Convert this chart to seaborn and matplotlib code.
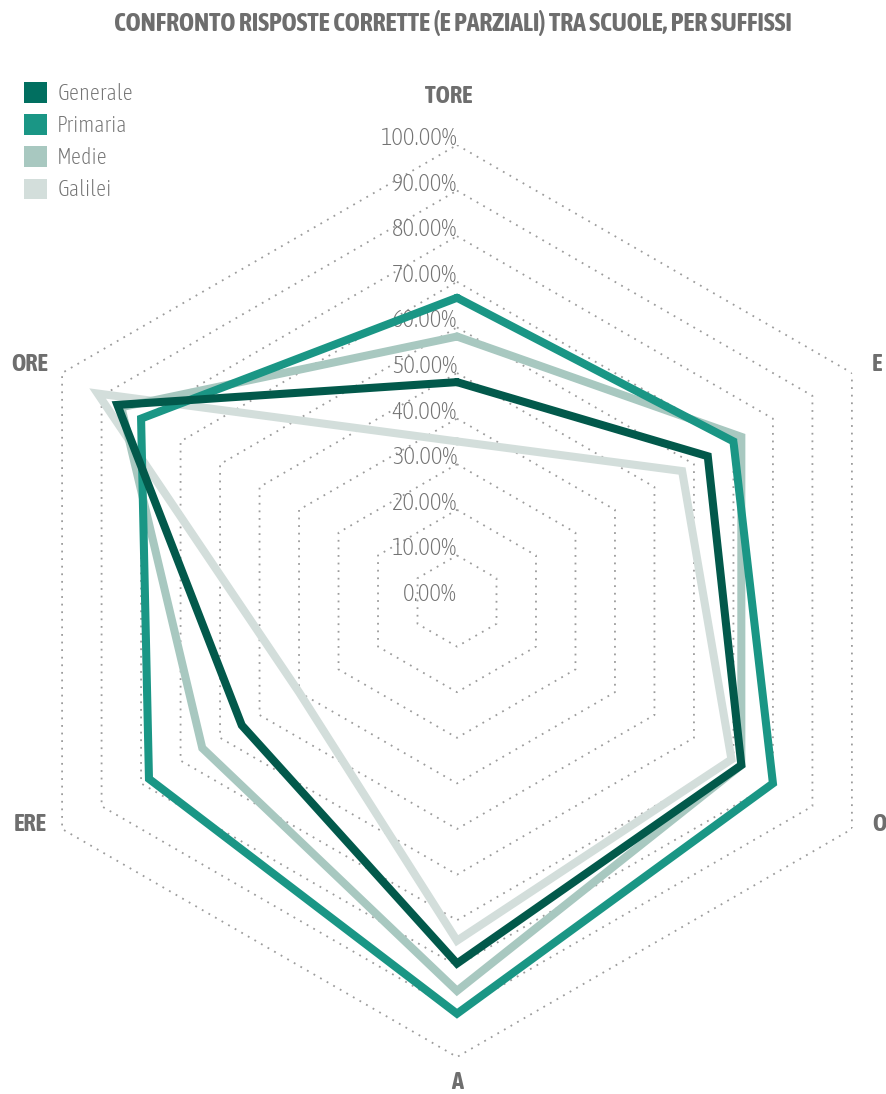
import numpy as np
import pandas as pd
import matplotlib
matplotlib.use("Agg")
import matplotlib.pyplot as plt
from matplotlib.patches import Patch
import seaborn as sns

# Suffix categories, clockwise from the top
categories = ["TORE", "E", "O", "A", "ERE", "ORE"]

# Share of correct (and partially correct) answers per school group
generale = [0.48, 0.635, 0.72, 0.795, 0.545, 0.86]
primaria = [0.665, 0.70, 0.80, 0.905, 0.78, 0.80]
medie = [0.58, 0.72, 0.72, 0.855, 0.645, 0.85]
galilei = [0.35, 0.57, 0.695, 0.745, 0.40, 0.91]

series_names = ["Generale", "Primaria", "Medie", "Galilei"]
levels = [0.0, 0.1, 0.2, 0.3, 0.4, 0.5, 0.6, 0.7, 0.8, 0.9, 1.0]

line_colors = {"Generale": "#02594b", "Primaria": "#1a9685",
               "Medie": "#a8c8c0", "Galilei": "#d3dedb"}
swatch_colors = {"Generale": "#016f60", "Primaria": "#1a9685",
                 "Medie": "#a8c8c0", "Galilei": "#d3dedb"}

sns.set_theme(style="white")
plt.rcParams["font.family"] = ["Asap Condensed", "DejaVu Sans"]

W, H = 887, 1094
fig = plt.figure(figsize=(W / 100, H / 100), dpi=100)

# Polar axes centred on the hexagon, unit radius = 100 %
cx, cy, R = 457, 601, 456
ax = fig.add_axes([(cx - R) / W, (H - cy - R) / H, 2 * R / W, 2 * R / H],
                  projection="polar")
ax.set_theta_offset(np.pi / 2)
ax.set_theta_direction(-1)
ax.set_ylim(0, 1)
ax.set_axis_off()

n = len(categories)
theta = np.linspace(0, 2 * np.pi, n + 1)

# Long-form table, each polygon closed by repeating its first vertex
values = {"Generale": generale, "Primaria": primaria,
          "Medie": medie, "Galilei": galilei}
rows = []
for name in series_names:
    v = list(values[name]) + [values[name][0]]
    for t, val in zip(theta, v):
        rows.append({"theta": t, "value": val, "school": name})
df = pd.DataFrame(rows)

# Hexagonal dotted grid
for lv in levels[1:]:
    ax.plot(theta, [lv] * (n + 1), color="#9c9c9c", linewidth=1.3,
            linestyle=(0, (1, 3.2)), zorder=1)

# Radial tick labels along the top axis
for lv in levels:
    ax.text(0, lv, f"{lv * 100:.2f}%", ha="right", va="baseline",
            fontsize=17.5, fontweight="light", color="#737373", zorder=2)

draw_order = ["Galilei", "Medie", "Primaria", "Generale"]
sns.lineplot(data=df, x="theta", y="value", hue="school",
             hue_order=draw_order, palette=line_colors, sort=False,
             estimator=None, linewidth=5.8, legend=False, ax=ax,
             solid_joinstyle="miter", zorder=3)

# Category labels around the chart
label_pos = {
    "TORE": (-0.9, 1.112, "center"),
    "E": (60.06, 1.050, "left"),
    "O": (118.0, 1.031, "left"),
    "A": (180.0, 1.050, "center"),
    "ERE": (241.7, 1.021, "right"),
    "ORE": (300.3, 1.039, "right"),
}
for cat in categories:
    ang, r, ha = label_pos[cat]
    ax.text(np.deg2rad(ang), r, cat, ha=ha, va="center_baseline",
            fontsize=17.5, fontweight="bold", color="#6e6e6e", clip_on=False)

fig.text(453 / W, 1 - 21 / H,
         "CONFRONTO RISPOSTE CORRETTE (E PARZIALI) TRA SCUOLE, PER SUFFISSI",
         ha="center", va="center_baseline", fontsize=18.5, fontweight="bold",
         color="#6e6e6e")

handles = [Patch(facecolor=swatch_colors[s], edgecolor="none", label=s)
           for s in series_names]
leg = fig.legend(handles=handles, loc="upper left",
                 bbox_to_anchor=(15 / W, 1 - 73 / H), frameon=False,
                 prop={"size": 16, "weight": "light"},
                 handlelength=1.05, handleheight=1.05,
                 handletextpad=0.45, labelspacing=0.42, borderaxespad=0)
for t in leg.get_texts():
    t.set_color("#737373")

fig.savefig("out.png", dpi=100)
